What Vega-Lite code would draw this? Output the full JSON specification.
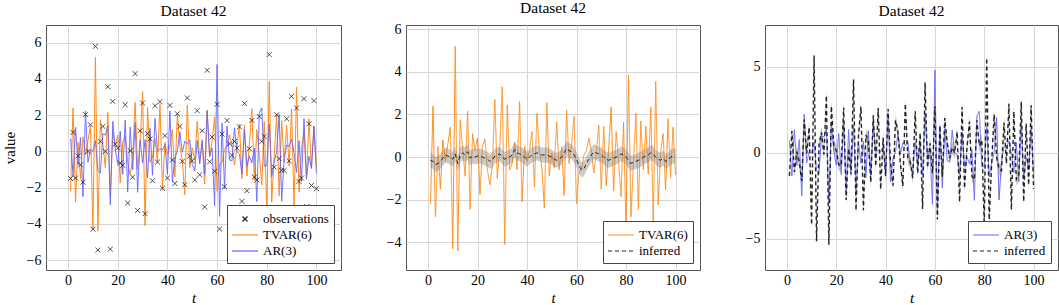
{
 "$schema": "https://vega.github.io/schema/vega-lite/v6.json",
 "padding": {"left": 1, "top": 0, "right": 0, "bottom": 0},
 "background": "white",
 "spacing": 65,
 "bounds": "flush",
 "resolve": {"scale": {"color": "independent", "shape": "independent", "strokeDash": "independent", "y": "independent"}, "legend": {"color": "independent", "shape": "independent", "strokeDash": "independent"}},
 "config": {
  "font": "Liberation Serif",
  "view": {"stroke": "#555", "strokeWidth": 1},
  "axis": {"domain": false, "ticks": false, "grid": true, "gridColor": "#d6d6d6", "labelFont": "Liberation Serif", "labelFontSize": 14, "labelColor": "#000", "titleFont": "Liberation Serif", "titleFontWeight": "normal", "titleFontSize": 15, "titleColor": "#000", "labelPadding": 5},
  "axisX": {"titleFontStyle": "italic", "titlePadding": 3, "labelPadding": 3},
  "title": {"font": "Liberation Serif", "fontSize": 15.5, "fontWeight": "normal", "offset": 6, "color": "#000"},
  "legend": {"orient": "bottom-right", "offset": 7, "fillColor": "white", "strokeColor": "#444", "padding": 5, "labelFont": "Liberation Serif", "labelFontSize": 13, "labelColor": "#000", "symbolSize": 256, "symbolStrokeWidth": 1.2, "symbolType": "M-1.625,0L1.625,0", "symbolOffset": 4, "rowPadding": -1, "cornerRadius": 0, "labelOffset": 9}
 },
 "datasets": {"d": [
{"t":1,"obs":-1.5,"tvar":-2.2,"ar":0.7,"m":-0.15,"ml":-0.5,"mh":0.2,"a":-1.35,"al":-1.7,"ah":-1.0},
{"t":2,"obs":1.05,"tvar":2.4,"ar":-1.35,"m":-0.2,"ml":-0.55,"mh":0.15,"a":1.25,"al":0.9,"ah":1.6},
{"t":3,"obs":-1.47,"tvar":-2.8,"ar":1.33,"m":-0.35,"ml":-0.7,"mh":0.0,"a":-1.12,"al":-1.47,"ah":-0.77},
{"t":4,"obs":-0.24,"tvar":0.5,"ar":-0.74,"m":-0.3,"ml":-0.65,"mh":0.05,"a":0.06,"al":-0.29,"ah":0.41},
{"t":5,"obs":-0.74,"tvar":-1.5,"ar":0.76,"m":-0.2,"ml":-0.55,"mh":0.15,"a":-0.54,"al":-0.89,"ah":-0.19},
{"t":6,"obs":-1.7,"tvar":0.8,"ar":-2.5,"m":-0.05,"ml":-0.4,"mh":0.3,"a":-1.65,"al":-2.0,"ah":-1.3},
{"t":7,"obs":2.03,"tvar":-0.2,"ar":2.23,"m":0.1,"ml":-0.25,"mh":0.45,"a":1.93,"al":1.58,"ah":2.28},
{"t":8,"obs":0.0,"tvar":0.6,"ar":-0.6,"m":0.05,"ml":-0.3,"mh":0.4,"a":-0.05,"al":-0.4,"ah":0.3},
{"t":9,"obs":1.47,"tvar":1.4,"ar":0.07,"m":0.0,"ml":-0.35,"mh":0.35,"a":1.47,"al":1.12,"ah":1.82},
{"t":10,"obs":-4.3,"tvar":-4.3,"ar":0.0,"m":-0.1,"ml":-0.45,"mh":0.25,"a":-4.2,"al":-4.55,"ah":-3.85},
{"t":11,"obs":5.8,"tvar":5.2,"ar":0.6,"m":0.15,"ml":-0.2,"mh":0.5,"a":5.65,"al":5.3,"ah":6.0},
{"t":12,"obs":-5.45,"tvar":-4.4,"ar":-1.05,"m":-0.3,"ml":-0.65,"mh":0.05,"a":-5.15,"al":-5.5,"ah":-4.8},
{"t":13,"obs":0.55,"tvar":1.75,"ar":-1.2,"m":0.1,"ml":-0.25,"mh":0.45,"a":0.45,"al":0.1,"ah":0.8},
{"t":14,"obs":1.38,"tvar":0.4,"ar":0.98,"m":0.2,"ml":-0.15,"mh":0.55,"a":1.18,"al":0.83,"ah":1.53},
{"t":15,"obs":0.0,"tvar":-0.9,"ar":0.9,"m":0.1,"ml":-0.25,"mh":0.45,"a":-0.1,"al":-0.45,"ah":0.25},
{"t":16,"obs":3.57,"tvar":2.15,"ar":1.42,"m":0.25,"ml":-0.1,"mh":0.6,"a":3.32,"al":2.97,"ah":3.67},
{"t":17,"obs":-5.4,"tvar":-2.45,"ar":-2.95,"m":-0.05,"ml":-0.4,"mh":0.3,"a":-5.35,"al":-5.7,"ah":-5.0},
{"t":18,"obs":2.76,"tvar":1.1,"ar":1.66,"m":0.05,"ml":-0.3,"mh":0.4,"a":2.71,"al":2.36,"ah":3.06},
{"t":19,"obs":0.4,"tvar":0.3,"ar":0.1,"m":0.0,"ml":-0.35,"mh":0.35,"a":0.4,"al":0.05,"ah":0.75},
{"t":20,"obs":0.18,"tvar":0.9,"ar":-0.72,"m":0.05,"ml":-0.3,"mh":0.4,"a":0.13,"al":-0.22,"ah":0.48},
{"t":21,"obs":-0.64,"tvar":-1.75,"ar":1.11,"m":0.05,"ml":-0.3,"mh":0.4,"a":-0.69,"al":-1.04,"ah":-0.34},
{"t":22,"obs":-0.77,"tvar":0.5,"ar":-1.27,"m":0.0,"ml":-0.35,"mh":0.35,"a":-0.77,"al":-1.12,"ah":-0.42},
{"t":23,"obs":2.58,"tvar":0.85,"ar":1.73,"m":-0.05,"ml":-0.4,"mh":0.3,"a":2.63,"al":2.28,"ah":2.98},
{"t":24,"obs":-2.85,"tvar":-0.6,"ar":-2.25,"m":-0.1,"ml":-0.45,"mh":0.25,"a":-2.75,"al":-3.1,"ah":-2.4},
{"t":25,"obs":0.04,"tvar":-1.3,"ar":1.34,"m":-0.2,"ml":-0.55,"mh":0.15,"a":0.24,"al":-0.11,"ah":0.59},
{"t":26,"obs":-1.42,"tvar":-0.4,"ar":-1.02,"m":-0.15,"ml":-0.5,"mh":0.2,"a":-1.27,"al":-1.62,"ah":-0.92},
{"t":27,"obs":4.3,"tvar":2.7,"ar":1.6,"m":0.05,"ml":-0.3,"mh":0.4,"a":4.25,"al":3.9,"ah":4.6},
{"t":28,"obs":-3.26,"tvar":-1.0,"ar":-2.26,"m":0.1,"ml":-0.25,"mh":0.45,"a":-3.36,"al":-3.71,"ah":-3.01},
{"t":29,"obs":1.14,"tvar":0.5,"ar":0.64,"m":0.15,"ml":-0.2,"mh":0.5,"a":0.99,"al":0.64,"ah":1.34},
{"t":30,"obs":2.67,"tvar":3.3,"ar":-0.63,"m":0.0,"ml":-0.35,"mh":0.35,"a":2.67,"al":2.32,"ah":3.02},
{"t":31,"obs":-3.44,"tvar":-4.1,"ar":0.66,"m":-0.1,"ml":-0.45,"mh":0.25,"a":-3.34,"al":-3.69,"ah":-2.99},
{"t":32,"obs":0.98,"tvar":2.45,"ar":-1.47,"m":-0.05,"ml":-0.4,"mh":0.3,"a":1.03,"al":0.68,"ah":1.38},
{"t":33,"obs":0.68,"tvar":-0.6,"ar":1.28,"m":0.0,"ml":-0.35,"mh":0.35,"a":0.68,"al":0.33,"ah":1.03},
{"t":34,"obs":-1.62,"tvar":-0.3,"ar":-1.32,"m":0.1,"ml":-0.25,"mh":0.45,"a":-1.72,"al":-2.07,"ah":-1.37},
{"t":35,"obs":2.52,"tvar":0.7,"ar":1.82,"m":0.35,"ml":0.0,"mh":0.7,"a":2.17,"al":1.82,"ah":2.52},
{"t":36,"obs":-0.59,"tvar":-0.6,"ar":0.01,"m":0.2,"ml":-0.15,"mh":0.55,"a":-0.79,"al":-1.14,"ah":-0.44},
{"t":37,"obs":2.74,"tvar":2.6,"ar":0.14,"m":0.15,"ml":-0.2,"mh":0.5,"a":2.59,"al":2.24,"ah":2.94},
{"t":38,"obs":-2.03,"tvar":-2.1,"ar":0.07,"m":0.1,"ml":-0.25,"mh":0.45,"a":-2.13,"al":-2.48,"ah":-1.78},
{"t":39,"obs":0.87,"tvar":0.5,"ar":0.37,"m":0.0,"ml":-0.35,"mh":0.35,"a":0.87,"al":0.52,"ah":1.22},
{"t":40,"obs":-1.47,"tvar":-0.2,"ar":-1.27,"m":-0.1,"ml":-0.45,"mh":0.25,"a":-1.37,"al":-1.72,"ah":-1.02},
{"t":41,"obs":2.54,"tvar":0.3,"ar":2.24,"m":0.0,"ml":-0.35,"mh":0.35,"a":2.54,"al":2.19,"ah":2.89},
{"t":42,"obs":-0.48,"tvar":1.2,"ar":-1.68,"m":0.1,"ml":-0.25,"mh":0.45,"a":-0.58,"al":-0.93,"ah":-0.23},
{"t":43,"obs":-1.77,"tvar":-1.4,"ar":-0.37,"m":0.15,"ml":-0.2,"mh":0.5,"a":-1.92,"al":-2.27,"ah":-1.57},
{"t":44,"obs":2.08,"tvar":2.05,"ar":0.03,"m":0.2,"ml":-0.15,"mh":0.55,"a":1.88,"al":1.53,"ah":2.23},
{"t":45,"obs":1.38,"tvar":0.3,"ar":1.08,"m":0.15,"ml":-0.2,"mh":0.5,"a":1.23,"al":0.88,"ah":1.58},
{"t":46,"obs":-0.55,"tvar":-0.5,"ar":-0.05,"m":0.1,"ml":-0.25,"mh":0.45,"a":-0.65,"al":-1.0,"ah":-0.3},
{"t":47,"obs":-1.84,"tvar":-2.4,"ar":0.56,"m":0.1,"ml":-0.25,"mh":0.45,"a":-1.94,"al":-2.29,"ah":-1.59},
{"t":48,"obs":2.95,"tvar":2.55,"ar":0.4,"m":0.1,"ml":-0.25,"mh":0.45,"a":2.85,"al":2.5,"ah":3.2},
{"t":49,"obs":-0.26,"tvar":-0.9,"ar":0.64,"m":0.05,"ml":-0.3,"mh":0.4,"a":-0.31,"al":-0.66,"ah":0.04},
{"t":50,"obs":-0.52,"tvar":0.2,"ar":-0.72,"m":0.0,"ml":-0.35,"mh":0.35,"a":-0.52,"al":-0.87,"ah":-0.17},
{"t":51,"obs":-1.58,"tvar":-0.5,"ar":-1.08,"m":-0.1,"ml":-0.45,"mh":0.25,"a":-1.48,"al":-1.83,"ah":-1.13},
{"t":52,"obs":2.25,"tvar":1.65,"ar":0.6,"m":-0.15,"ml":-0.5,"mh":0.2,"a":2.4,"al":2.05,"ah":2.75},
{"t":53,"obs":-1.29,"tvar":-0.6,"ar":-0.69,"m":-0.1,"ml":-0.45,"mh":0.25,"a":-1.19,"al":-1.54,"ah":-0.84},
{"t":54,"obs":1.14,"tvar":0.5,"ar":0.64,"m":0.0,"ml":-0.35,"mh":0.35,"a":1.14,"al":0.79,"ah":1.49},
{"t":55,"obs":-3.07,"tvar":-1.8,"ar":-1.27,"m":0.2,"ml":-0.15,"mh":0.55,"a":-3.27,"al":-3.62,"ah":-2.92},
{"t":56,"obs":4.48,"tvar":2.2,"ar":2.28,"m":0.4,"ml":0.05,"mh":0.75,"a":4.08,"al":3.73,"ah":4.43},
{"t":57,"obs":-0.57,"tvar":-0.3,"ar":-0.27,"m":0.3,"ml":-0.05,"mh":0.65,"a":-0.87,"al":-1.22,"ah":-0.52},
{"t":58,"obs":0.79,"tvar":0.6,"ar":0.19,"m":0.25,"ml":-0.1,"mh":0.6,"a":0.54,"al":0.19,"ah":0.89},
{"t":59,"obs":-1.1,"tvar":1.9,"ar":-3.0,"m":0.1,"ml":-0.25,"mh":0.45,"a":-1.2,"al":-1.55,"ah":-0.85},
{"t":60,"obs":2.6,"tvar":-2.2,"ar":4.8,"m":-0.1,"ml":-0.45,"mh":0.25,"a":2.7,"al":2.35,"ah":3.05},
{"t":61,"obs":-4.29,"tvar":-0.7,"ar":-3.59,"m":-0.4,"ml":-0.75,"mh":-0.05,"a":-3.89,"al":-4.24,"ah":-3.54},
{"t":62,"obs":0.96,"tvar":-0.6,"ar":1.56,"m":-0.6,"ml":-0.95,"mh":-0.25,"a":1.56,"al":1.21,"ah":1.91},
{"t":63,"obs":-1.95,"tvar":0.1,"ar":-2.05,"m":-0.55,"ml":-0.9,"mh":-0.2,"a":-1.4,"al":-1.75,"ah":-1.05},
{"t":64,"obs":1.71,"tvar":0.3,"ar":1.41,"m":-0.3,"ml":-0.65,"mh":0.05,"a":2.01,"al":1.66,"ah":2.36},
{"t":65,"obs":0.42,"tvar":0.9,"ar":-0.48,"m":-0.1,"ml":-0.45,"mh":0.25,"a":0.52,"al":0.17,"ah":0.87},
{"t":66,"obs":-0.22,"tvar":0.3,"ar":-0.52,"m":0.1,"ml":-0.25,"mh":0.45,"a":-0.32,"al":-0.67,"ah":0.03},
{"t":67,"obs":0.55,"tvar":-0.75,"ar":1.3,"m":0.25,"ml":-0.1,"mh":0.6,"a":0.3,"al":-0.05,"ah":0.65},
{"t":68,"obs":0.18,"tvar":0.2,"ar":-0.02,"m":0.2,"ml":-0.15,"mh":0.55,"a":-0.02,"al":-0.37,"ah":0.33},
{"t":69,"obs":1.36,"tvar":1.5,"ar":-0.14,"m":0.15,"ml":-0.2,"mh":0.5,"a":1.21,"al":0.86,"ah":1.56},
{"t":70,"obs":-2.76,"tvar":-1.5,"ar":-1.26,"m":0.1,"ml":-0.25,"mh":0.45,"a":-2.86,"al":-3.21,"ah":-2.51},
{"t":71,"obs":2.65,"tvar":1.45,"ar":1.2,"m":0.0,"ml":-0.35,"mh":0.35,"a":2.65,"al":2.3,"ah":3.0},
{"t":72,"obs":-2.17,"tvar":-1.35,"ar":-0.82,"m":-0.1,"ml":-0.45,"mh":0.25,"a":-2.07,"al":-2.42,"ah":-1.72},
{"t":73,"obs":0.15,"tvar":0.4,"ar":-0.25,"m":-0.15,"ml":-0.5,"mh":0.2,"a":0.3,"al":-0.05,"ah":0.65},
{"t":74,"obs":1.71,"tvar":2.35,"ar":-0.64,"m":-0.1,"ml":-0.45,"mh":0.25,"a":1.81,"al":1.46,"ah":2.16},
{"t":75,"obs":-1.42,"tvar":-1.6,"ar":0.18,"m":-0.05,"ml":-0.4,"mh":0.3,"a":-1.37,"al":-1.72,"ah":-1.02},
{"t":76,"obs":-1.57,"tvar":1.2,"ar":-2.77,"m":0.0,"ml":-0.35,"mh":0.35,"a":-1.57,"al":-1.92,"ah":-1.22},
{"t":77,"obs":1.93,"tvar":-0.2,"ar":2.13,"m":0.05,"ml":-0.3,"mh":0.4,"a":1.88,"al":1.53,"ah":2.23},
{"t":78,"obs":0.55,"tvar":-1.85,"ar":2.4,"m":0.15,"ml":-0.2,"mh":0.5,"a":0.4,"al":0.05,"ah":0.75},
{"t":79,"obs":0.83,"tvar":1.65,"ar":-0.82,"m":0.1,"ml":-0.25,"mh":0.45,"a":0.73,"al":0.38,"ah":1.08},
{"t":80,"obs":-4.2,"tvar":-3.4,"ar":-0.8,"m":0.0,"ml":-0.35,"mh":0.35,"a":-4.2,"al":-4.55,"ah":-3.85},
{"t":81,"obs":5.35,"tvar":3.85,"ar":1.5,"m":-0.15,"ml":-0.5,"mh":0.2,"a":5.5,"al":5.15,"ah":5.85},
{"t":82,"obs":-4.2,"tvar":-2.8,"ar":-1.4,"m":-0.3,"ml":-0.65,"mh":0.05,"a":-3.9,"al":-4.25,"ah":-3.55},
{"t":83,"obs":-0.87,"tvar":-0.3,"ar":-0.57,"m":-0.25,"ml":-0.6,"mh":0.1,"a":-0.62,"al":-0.97,"ah":-0.27},
{"t":84,"obs":2.02,"tvar":2.05,"ar":-0.03,"m":-0.2,"ml":-0.55,"mh":0.15,"a":2.22,"al":1.87,"ah":2.57},
{"t":85,"obs":-0.4,"tvar":-2.45,"ar":2.05,"m":-0.15,"ml":-0.5,"mh":0.2,"a":-0.25,"al":-0.6,"ah":0.1},
{"t":86,"obs":-1.05,"tvar":1.7,"ar":-2.75,"m":-0.1,"ml":-0.45,"mh":0.25,"a":-0.95,"al":-1.3,"ah":-0.6},
{"t":87,"obs":-1.05,"tvar":-0.6,"ar":-0.45,"m":0.0,"ml":-0.35,"mh":0.35,"a":-1.05,"al":-1.4,"ah":-0.7},
{"t":88,"obs":1.8,"tvar":1.45,"ar":0.35,"m":0.05,"ml":-0.3,"mh":0.4,"a":1.75,"al":1.4,"ah":2.1},
{"t":89,"obs":-0.52,"tvar":-0.8,"ar":0.28,"m":0.1,"ml":-0.25,"mh":0.45,"a":-0.62,"al":-0.97,"ah":-0.27},
{"t":90,"obs":3.04,"tvar":2.35,"ar":0.69,"m":0.2,"ml":-0.15,"mh":0.55,"a":2.84,"al":2.49,"ah":3.19},
{"t":91,"obs":-3.17,"tvar":-3.1,"ar":-0.07,"m":0.15,"ml":-0.2,"mh":0.5,"a":-3.32,"al":-3.67,"ah":-2.97},
{"t":92,"obs":2.39,"tvar":3.55,"ar":-1.16,"m":0.0,"ml":-0.35,"mh":0.35,"a":2.39,"al":2.04,"ah":2.74},
{"t":93,"obs":-1.66,"tvar":-2.25,"ar":0.59,"m":-0.1,"ml":-0.45,"mh":0.25,"a":-1.56,"al":-1.91,"ah":-1.21},
{"t":94,"obs":-1.47,"tvar":0.2,"ar":-1.67,"m":-0.15,"ml":-0.5,"mh":0.2,"a":-1.32,"al":-1.67,"ah":-0.97},
{"t":95,"obs":2.91,"tvar":1.1,"ar":1.81,"m":-0.05,"ml":-0.4,"mh":0.3,"a":2.96,"al":2.61,"ah":3.31},
{"t":96,"obs":-3.05,"tvar":-1.55,"ar":-1.5,"m":-0.2,"ml":-0.55,"mh":0.15,"a":-2.85,"al":-3.2,"ah":-2.5},
{"t":97,"obs":1.53,"tvar":1.8,"ar":-0.27,"m":-0.15,"ml":-0.5,"mh":0.2,"a":1.68,"al":1.33,"ah":2.03},
{"t":98,"obs":-1.88,"tvar":-0.95,"ar":-0.93,"m":0.0,"ml":-0.35,"mh":0.35,"a":-1.88,"al":-2.23,"ah":-1.53},
{"t":99,"obs":2.8,"tvar":1.4,"ar":1.4,"m":0.05,"ml":-0.3,"mh":0.4,"a":2.75,"al":2.4,"ah":3.1},
{"t":100,"obs":-2.06,"tvar":-0.85,"ar":-1.21,"m":0.05,"ml":-0.3,"mh":0.4,"a":-2.11,"al":-2.46,"ah":-1.76}
 ]},
 "hconcat": [
  {
   "width": 295, "height": 245,
   "title": "Dataset 42",
   "data": {"name": "d"},
   "encoding": {"x": {"field": "t", "type": "quantitative", "scale": {"domain": [-8.9, 109.9], "nice": false, "zero": false}, "axis": {"values": [0, 20, 40, 60, 80, 100], "title": "t"}}},
   "layer": [
    {"mark": {"type": "line", "strokeWidth": 1, "clip": true},
     "encoding": {
      "y": {"field": "tvar", "type": "quantitative", "scale": {"domain": [-6.55, 6.98], "nice": false, "zero": false}, "axis": {"values": [-6, -4, -2, 0, 2, 4, 6], "title": "value", "titlePadding": 9}},
      "color": {"datum": "TVAR(6)", "type": "nominal", "scale": {"domain": ["observations", "TVAR(6)", "AR(3)"], "range": ["#222222", "#ff8c1a", "#6464ff"]}, "legend": {"title": null}}}},
    {"mark": {"type": "line", "strokeWidth": 0.9, "clip": true},
     "encoding": {
      "y": {"field": "ar", "type": "quantitative"},
      "color": {"datum": "AR(3)", "type": "nominal"}}},
    {"mark": {"type": "point", "size": 256, "strokeWidth": 0.8, "opacity": 1, "clip": true},
     "encoding": {
      "y": {"field": "obs", "type": "quantitative"},
      "color": {"datum": "observations", "type": "nominal"},
      "shape": {"datum": "observations", "type": "nominal", "scale": {"domain": ["observations", "TVAR(6)", "AR(3)"], "range": ["M-0.31,-0.31L0.31,0.31M0.31,-0.31L-0.31,0.31", "M-1.625,0L1.625,0", "M-1.625,0L1.625,0"]}, "legend": {"title": null}}}}
   ]
  },
  {
   "width": 294, "height": 245,
   "title": "Dataset 42",
   "data": {"name": "d"},
   "encoding": {"x": {"field": "t", "type": "quantitative", "scale": {"domain": [-8.9, 109.9], "nice": false, "zero": false}, "axis": {"values": [0, 20, 40, 60, 80, 100], "title": "t"}}},
   "layer": [
    {"mark": {"type": "line", "strokeWidth": 1, "clip": true},
     "encoding": {
      "y": {"field": "tvar", "type": "quantitative", "scale": {"domain": [-5.3, 6.2], "nice": false, "zero": false}, "axis": {"values": [-4, -2, 0, 2, 4, 6], "title": null}},
      "color": {"datum": "TVAR(6)", "type": "nominal", "scale": {"domain": ["TVAR(6)", "inferred"], "range": ["#ff8c1a", "#222222"]}, "legend": {"title": null}},
      "strokeDash": {"datum": "TVAR(6)", "type": "nominal", "scale": {"domain": ["TVAR(6)", "inferred"], "range": [[1, 0], [4, 3]]}, "legend": {"title": null}}}},
    {"mark": {"type": "area", "color": "#808080", "opacity": 0.4, "clip": true},
     "encoding": {"y": {"field": "ml", "type": "quantitative"}, "y2": {"field": "mh"}}},
    {"mark": {"type": "line", "strokeWidth": 1, "clip": true},
     "encoding": {
      "y": {"field": "m", "type": "quantitative"},
      "color": {"datum": "inferred", "type": "nominal"},
      "strokeDash": {"datum": "inferred", "type": "nominal"}}}
   ]
  },
  {
   "width": 293, "height": 245,
   "title": "Dataset 42",
   "data": {"name": "d"},
   "encoding": {"x": {"field": "t", "type": "quantitative", "scale": {"domain": [-8.9, 109.9], "nice": false, "zero": false}, "axis": {"values": [0, 20, 40, 60, 80, 100], "title": "t"}}},
   "layer": [
    {"mark": {"type": "line", "strokeWidth": 1, "clip": true},
     "encoding": {
      "y": {"field": "ar", "type": "quantitative", "scale": {"domain": [-6.82, 7.42], "nice": false, "zero": false}, "axis": {"values": [-5, 0, 5], "title": null}},
      "color": {"datum": "AR(3)", "type": "nominal", "scale": {"domain": ["AR(3)", "inferred"], "range": ["#6464ff", "#222222"]}, "legend": {"title": null}},
      "strokeDash": {"datum": "AR(3)", "type": "nominal", "scale": {"domain": ["AR(3)", "inferred"], "range": [[1, 0], [4, 3]]}, "legend": {"title": null}}}},
    {"mark": {"type": "area", "color": "#808080", "opacity": 0.45, "clip": true},
     "encoding": {"y": {"field": "al", "type": "quantitative"}, "y2": {"field": "ah"}}},
    {"mark": {"type": "line", "strokeWidth": 1.4, "clip": true},
     "encoding": {
      "y": {"field": "a", "type": "quantitative"},
      "color": {"datum": "inferred", "type": "nominal"},
      "strokeDash": {"datum": "inferred", "type": "nominal"}}}
   ]
  }
 ]
}
